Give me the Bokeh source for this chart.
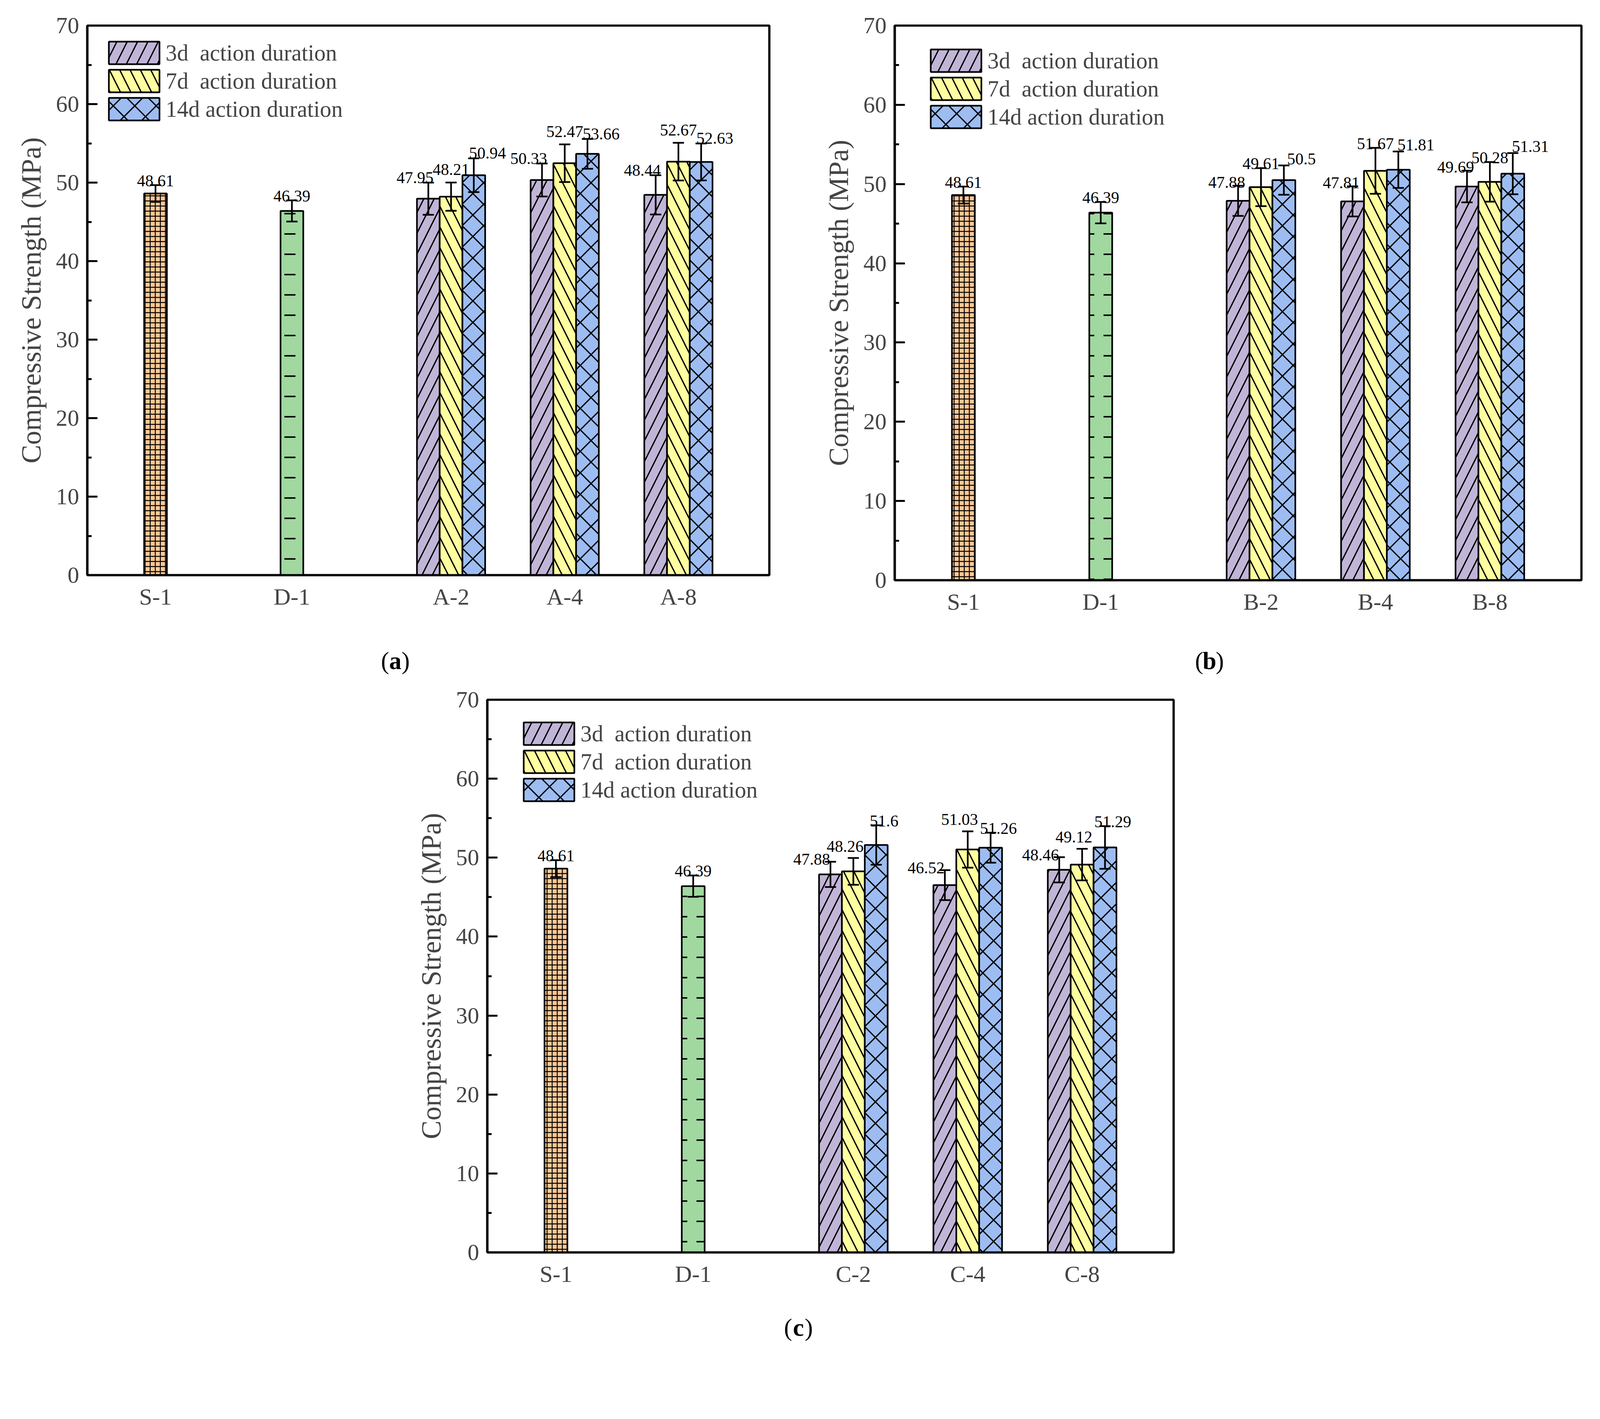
from bokeh.plotting import figure
from bokeh.models import (ColumnDataSource, Legend, LegendItem, Whisker, TeeHead,
                          SingleIntervalTicker, FixedTicker, Spacer, Range1d)
from bokeh.layouts import column, row
from bokeh.core.properties import value
from bokeh.embed import file_html
from bokeh.resources import INLINE

FONT = "Liberation Serif"

# ---------------- data ----------------
series_names = ["3d  action duration", "7d  action duration", "14d action duration"]
ref_labels = ["S-1", "D-1"]
ref_values = [48.61, 46.39]
ref_errors = [1.07, 1.35]

groups_a = ["A-2", "A-4", "A-8"]
a_3d = [47.95, 50.33, 48.44]
a_7d = [48.21, 52.47, 52.67]
a_14d = [50.94, 53.66, 52.63]
a_3d_err = [2.05, 2.1, 2.5]
a_7d_err = [1.8, 2.4, 2.4]
a_14d_err = [2.15, 1.9, 2.35]

groups_b = ["B-2", "B-4", "B-8"]
b_3d = [47.88, 47.81, 49.69]
b_7d = [49.61, 51.67, 50.28]
b_14d = [50.5, 51.81, 51.31]
b_3d_err = [1.9, 1.9, 2.0]
b_7d_err = [2.4, 2.9, 2.5]
b_14d_err = [1.85, 2.3, 2.6]

groups_c = ["C-2", "C-4", "C-8"]
c_3d = [47.88, 46.52, 48.46]
c_7d = [48.26, 51.03, 49.12]
c_14d = [51.6, 51.26, 51.29]
c_3d_err = [1.6, 1.9, 1.6]
c_7d_err = [1.7, 2.3, 2.0]
c_14d_err = [2.5, 1.9, 2.7]

captions = ["a", "b", "c"]

# ---------------- styles ----------------
SC = 1.047  # picture px per CSS px


def c(v):
    return int(round(v / SC))


def fs(v):
    return "%.1fpx" % (v / SC)


ref_colors = ["#FFC896", "#A0D8A0"]
ref_hatch = ["+", '"']
ref_hatch_scale = [c(14), c(54)]
ref_hatch_weight = [2.5 / SC, 4 / SC]
ser_colors = ["#C1B5D7", "#FFFFA0", "#9DBDF2"]
ser_hatch = ["/", "\\", "x"]
ser_hatch_scale = [c(56), c(56), c(58)]
ser_hatch_weight = [3.5 / SC, 3.5 / SC, 3.5 / SC]

POS = [0.6, 1.8, 3.2, 4.2, 5.2]
BW = 0.2
LW_BAR = 4.4 / SC
LW_ERR = 4.5 / SC
CAP = 30 / SC
VAL_FS = fs(44)

# legend geometry (swatch is drawn inset by 10% of its glyph box)
LG_W = c(170)
LG_H = 72
LG_TOTAL_H = 3 * LG_H


def make_panel(groups, series, errors, frame_w, frame_h, borders,
               label_dx, label_lift, legend_off):
    bl, bt, br, bb = borders
    p = figure(frame_width=frame_w, frame_height=frame_h,
               min_border_left=bl, min_border_top=bt, min_border_right=br,
               min_border_bottom=bb, x_range=Range1d(0, 6), y_range=Range1d(0, 70),
               output_backend="svg", toolbar_location=None)
    p.xgrid.visible = False
    p.ygrid.visible = False
    p.outline_line_color = "black"
    p.outline_line_width = 6 / SC
    p.background_fill_color = "white"

    src_ref = ColumnDataSource(dict(
        x=POS[:2], top=ref_values, hi=[v + e for v, e in zip(ref_values, ref_errors)],
        lo=[v - e for v, e in zip(ref_values, ref_errors)],
        txt=[str(v) for v in ref_values]))
    for i in range(2):
        p.vbar(x=POS[i], top=ref_values[i], width=BW, bottom=0,
               fill_color=ref_colors[i], line_color="black", line_width=LW_BAR,
               hatch_pattern=ref_hatch[i], hatch_scale=ref_hatch_scale[i],
               hatch_weight=ref_hatch_weight[i], hatch_color="black")
    p.add_layout(Whisker(base="x", upper="hi", lower="lo", source=src_ref, line_width=LW_ERR,
                         upper_head=TeeHead(size=CAP, line_width=LW_ERR),
                         lower_head=TeeHead(size=CAP, line_width=LW_ERR), level="annotation"))
    p.text(x="x", y="hi", text="txt", source=src_ref, text_font=value(FONT),
           text_font_size=VAL_FS, text_align="center", text_baseline="alphabetic",
           y_offset=-c(11))

    items = []
    for s in range(3):
        offs = (s - 1) * BW
        xs = [POS[2 + g] + offs for g in range(3)]
        vals = series[s]
        errs = errors[s]
        src = ColumnDataSource(dict(
            x=xs, top=vals, hi=[v + e for v, e in zip(vals, errs)],
            lo=[v - e for v, e in zip(vals, errs)], txt=[str(v) for v in vals]))
        r = p.vbar(x="x", top="top", width=BW, bottom=0, source=src,
                   fill_color=ser_colors[s], line_color="black", line_width=LW_BAR,
                   hatch_pattern=ser_hatch[s], hatch_scale=ser_hatch_scale[s],
                   hatch_weight=ser_hatch_weight[s], hatch_color="black")
        items.append(LegendItem(label=series_names[s], renderers=[r]))
        p.add_layout(Whisker(base="x", upper="hi", lower="lo", source=src, line_width=LW_ERR,
                             upper_head=TeeHead(size=CAP, line_width=LW_ERR),
                             lower_head=TeeHead(size=CAP, line_width=LW_ERR),
                             level="annotation"))
        p.text(x="x", y="hi", text="txt", source=src, text_font=value(FONT),
               text_font_size=VAL_FS, text_align="center", text_baseline="alphabetic",
               x_offset=c(label_dx[s]), y_offset=-c(label_lift[s]))

    lx, ly = legend_off  # swatch left / top offsets from frame, picture px
    legend = Legend(items=items,
                    location=(c(lx - 12), frame_h - c(ly + 1) - LG_TOTAL_H),
                    orientation="vertical",
                    glyph_width=LG_W, glyph_height=LG_H, label_standoff=0, spacing=0,
                    padding=0, margin=0, border_line_alpha=0, background_fill_alpha=0,
                    label_text_font=FONT, label_text_font_size=fs(61))
    p.add_layout(legend)

    yax = p.yaxis[0]
    yax.ticker = SingleIntervalTicker(interval=10, num_minor_ticks=2)
    yax.axis_label = "Compressive Strength (MPa)"
    yax.axis_label_text_font = FONT
    yax.axis_label_text_font_style = "normal"
    yax.axis_label_text_font_size = fs(75)
    yax.axis_label_standoff = c(22)
    yax.major_label_text_font = FONT
    yax.major_label_text_font_size = fs(62)
    yax.major_label_standoff = c(22)
    yax.major_tick_in = c(27)
    yax.major_tick_out = 0
    yax.minor_tick_in = c(12)
    yax.minor_tick_out = 0
    yax.major_tick_line_width = 5 / SC
    yax.minor_tick_line_width = 5 / SC
    yax.axis_line_width = 6 / SC

    xax = p.xaxis[0]
    tick_lab = ref_labels + groups
    xax.ticker = FixedTicker(ticks=POS, minor_ticks=[])
    xax.major_label_overrides = {t: l for t, l in zip(POS, tick_lab)}
    xax.major_label_text_font = FONT
    xax.major_label_text_font_size = fs(63)
    xax.major_label_standoff = c(22)
    xax.major_tick_in = 0
    xax.major_tick_out = 0
    xax.minor_tick_in = 0
    xax.minor_tick_out = 0
    xax.axis_line_width = 6 / SC
    return p


def make_caption(letter, frame_w, height, bl, br, cx, cy):
    p = figure(frame_width=frame_w, frame_height=height, min_border_left=bl,
               min_border_right=br, min_border_top=0, min_border_bottom=0,
               x_range=Range1d(0, 6), y_range=Range1d(0, 1),
               x_axis_location=None, y_axis_location=None,
               output_backend="svg", toolbar_location=None)
    p.grid.visible = False
    p.outline_line_color = None
    p.text(x=[cx], y=[cy], text=[letter], text_font=value(FONT), text_font_style="bold",
           text_font_size=fs(66), text_align="center", text_baseline="middle")
    p.text(x=[cx], y=[cy], text=["("], text_font=value(FONT),
           text_font_size=fs(66), text_align="right", text_baseline="middle",
           x_offset=-c(17))
    p.text(x=[cx], y=[cy], text=[")"], text_font=value(FONT),
           text_font_size=fs(66), text_align="left", text_baseline="middle",
           x_offset=c(17))
    return p


# ----- geometry in picture pixels -----
a_bl = c(242) - 8
a_fw = c(1828)
a_bt = c(76) - 8
a_fh = c(1473)
a_W = c(2150) - 8
a_br = a_W - a_bl - a_fw
row1_H = c(1650) - 8
a_bb = row1_H - a_bt - a_fh

b_bl = c(2406) - c(2150)
b_fw = c(1841)
b_br = 20
b_bt = c(76.7) - 8
b_fh = c(1487)
b_bb = row1_H - b_bt - b_fh

cap1_H = c(1830) - c(1650)

spacer_w = c(1058) - 8
c_bl = c(1314) - c(1058)
c_fw = c(1840)
c_br = 40
c_bt = c(1875) - c(1830)
c_fh = c(1482)
row2_H = c(3440) - c(1830)
c_bb = row2_H - c_bt - c_fh
cap2_H = c(3615) - c(3440)

pa = make_panel(groups_a, [a_3d, a_7d, a_14d], [a_3d_err, a_7d_err, a_14d_err],
                a_fw, a_fh, (a_bl, a_bt, a_br, a_bb),
                [-36, 0, 37], [14, 35, 14], (53, 35))
pb = make_panel(groups_b, [b_3d, b_7d, b_14d], [b_3d_err, b_7d_err, b_14d_err],
                b_fw, b_fh, (b_bl, b_bt, b_br, b_bb),
                [-30, 0, 47], [9, 12, 18], (92, 56))
pc = make_panel(groups_c, [c_3d, c_7d, c_14d], [c_3d_err, c_7d_err, c_14d_err],
                c_fw, c_fh, (c_bl, c_bt, c_br, c_bb),
                [-50, -22, 21], [6, 31, 11], (93, 52))

capa = make_caption(captions[0], a_fw, cap1_H, a_bl, a_br, 2.71, (1830 - 1771) / 180)
capb = make_caption(captions[1], b_fw, cap1_H, b_bl, b_br, 2.75, (1830 - 1771) / 180)
capc = make_caption(captions[2], c_fw, cap2_H, c_bl, c_br, 2.72, (3615 - 3546) / 175)

layout = column(row(pa, pb), row(capa, capb),
                row(Spacer(width=spacer_w, height=row2_H), pc),
                row(Spacer(width=spacer_w, height=cap2_H), capc))

open("out.html", "w").write(file_html(layout, INLINE))
